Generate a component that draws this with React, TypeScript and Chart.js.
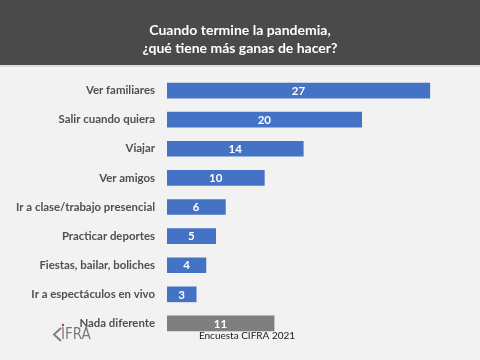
import React, { useEffect, useRef } from "react";
import { Chart, registerables } from "chart.js";

Chart.register(...registerables);

const categories = [
  "Ver familiares",
  "Salir cuando quiera",
  "Viajar",
  "Ver amigos",
  "Ir a clase/trabajo presencial",
  "Practicar deportes",
  "Fiestas, bailar, boliches",
  "Ir a espectáculos en vivo",
  "Nada diferente",
];
const values = [27, 20, 14, 10, 6, 5, 4, 3, 11];
const barColors = ["#4472c4", "#4472c4", "#4472c4", "#4472c4", "#4472c4", "#4472c4", "#4472c4", "#4472c4", "#7f7f7f"];
const titleLines = ["Cuando termine la pandemia,", "¿qué tiene más ganas de hacer?"];
const footnote = "Encuesta CIFRA 2021";
const logoText = "IFRA";

const FONT = "Lato, 'Open Sans', sans-serif";

const decorPlugin = {
  id: "decor",
  beforeDraw(chart: any) {
    const { ctx, width, height } = chart;
    ctx.save();
    ctx.fillStyle = "#f2f2f2";
    ctx.fillRect(0, 0, width, height);
    ctx.fillStyle = "#4a4a4a";
    ctx.fillRect(0, 0, width, 65);
    ctx.fillStyle = "#dcdcdc";
    ctx.fillRect(0, 65, width, 2);
    ctx.fillStyle = "#ffffff";
    ctx.font = `bold 14px ${FONT}`;
    ctx.textAlign = "center";
    ctx.textBaseline = "middle";
    ctx.fillText(titleLines[0], 240, 30);
    ctx.fillText(titleLines[1], 240, 48);
    ctx.restore();
  },
  afterDatasetsDraw(chart: any) {
    const { ctx } = chart;
    const meta = chart.getDatasetMeta(0);
    ctx.save();
    ctx.fillStyle = "#ffffff";
    ctx.font = `bold 11.5px ${FONT}`;
    ctx.textAlign = "center";
    ctx.textBaseline = "middle";
    meta.data.forEach((bar: any, i: number) => {
      const p = bar.getProps(["x", "y", "base"], true);
      ctx.fillText(String(values[i]), (p.x + p.base) / 2, p.y + 0.5);
    });
    // footnote
    ctx.fillStyle = "#1a1a1a";
    ctx.font = `10px ${FONT}`;
    ctx.fillText(footnote, 247, 336);
    // logo
    ctx.strokeStyle = "#7a7a7a";
    ctx.lineWidth = 1.8;
    ctx.beginPath();
    ctx.moveTo(61, 328);
    ctx.lineTo(54, 334.5);
    ctx.lineTo(61, 341);
    ctx.stroke();
    ctx.fillStyle = "#c0392b";
    ctx.beginPath();
    ctx.arc(63, 325, 1.2, 0, Math.PI * 2);
    ctx.fill();
    ctx.fillStyle = "#7a7a7a";
    ctx.font = `15px 'DejaVu Sans Condensed', ${FONT}`;
    ctx.textAlign = "left";
    ctx.fillText(logoText, 61, 335.5);
    ctx.restore();
  },
};

export default function App() {
  const ref = useRef<HTMLCanvasElement>(null);
  useEffect(() => {
    if (!ref.current) return;
    const chart = new Chart(ref.current, {
      type: "bar",
      data: {
        labels: categories,
        datasets: [
          {
            data: values,
            backgroundColor: barColors,
            barThickness: 15,
          },
        ],
      },
      options: {
        indexAxis: "y",
        animation: false,
        responsive: false,
        maintainAspectRatio: false,
        layout: { padding: { top: 76, bottom: 22, right: 21, left: 0 } },
        plugins: {
          legend: { display: false },
          title: { display: false },
          tooltip: { enabled: false },
        },
        scales: {
          x: {
            min: 0,
            max: 30,
            display: false,
          },
          y: {
            grid: { display: false, drawTicks: false },
            border: { display: false },
            ticks: {
              padding: 12,
              color: "#505050",
              font: { family: FONT, size: 11.4, weight: "bold" },
            },
            afterFit: (s: any) => {
              s.width = 167;
            },
          },
        },
      },
      plugins: [decorPlugin],
    });
    return () => chart.destroy();
  }, []);
  return (
    <div style={{ position: "fixed", left: 0, top: 0, width: 480, height: 360 }}>
      <canvas ref={ref} width={480} height={360} style={{ display: "block" }} />
    </div>
  );
}
